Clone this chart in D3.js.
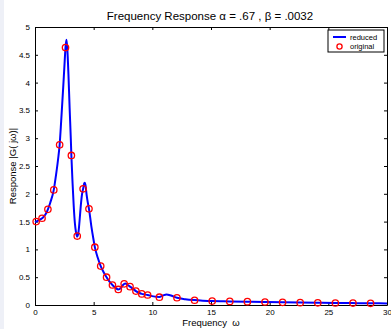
<!DOCTYPE html>
<html><head><meta charset="utf-8">
<script src="https://cdn.jsdelivr.net/npm/d3@7"></script>
<style>body{margin:0;background:#fff}svg{display:block}</style>
</head><body><svg id="c" width="391" height="329"></svg>
<script>
const titleText = "Frequency Response \u03B1 = .67 , \u03B2 = .0032";
const xLabelText = "Frequency  \u03C9";
const yLabelText = "Response |G( j\u03C9)|";
const seriesNames = ["reduced", "original"];
const xTicks = [0, 5, 10, 15, 20, 25, 30];
const yTicks = [0, 0.5, 1, 1.5, 2, 2.5, 3, 3.5, 4, 4.5, 5];
const yTickLabels = ["0", "0.5", "1", "1.5", "2", "2.5", "3", "3.5", "4", "4.5", "5"];

const lineX = [0, 0.3, 0.6, 0.9, 1.1, 1.3, 1.6, 1.8, 2.0, 2.1, 2.2, 2.3, 2.4, 2.5, 2.6, 2.68, 2.75, 2.85, 2.95, 3.05, 3.1, 3.2, 3.3, 3.4, 3.5, 3.6, 3.7, 3.8, 3.9, 4.0, 4.1, 4.2, 4.25, 4.3, 4.4, 4.5, 4.6, 4.8, 5.0, 5.1, 5.35, 5.6, 5.85, 6.1, 6.35, 6.6, 6.85, 7.1, 7.3, 7.5, 7.7, 7.9, 8.1, 8.35, 8.6, 8.85, 9.1, 9.35, 9.6, 10.1, 10.6, 10.9, 11.2, 11.6, 12.1, 12.8, 13.6, 14.3, 15.1, 16.6, 18.1, 19.6, 21.1, 22.6, 24.1, 25.6, 27.1, 28.6, 30];
const lineY = [1.49, 1.52, 1.56, 1.63, 1.72, 1.84, 2.07, 2.35, 2.68, 2.88, 3.2, 3.55, 3.9, 4.27, 4.63, 4.77, 4.62, 4.15, 3.55, 3.0, 2.69, 2.2, 1.78, 1.47, 1.3, 1.23, 1.3, 1.52, 1.78, 1.98, 2.09, 2.19, 2.2, 2.16, 1.98, 1.84, 1.73, 1.42, 1.16, 1.04, 0.85, 0.70, 0.59, 0.50, 0.42, 0.36, 0.31, 0.28, 0.30, 0.36, 0.385, 0.36, 0.33, 0.29, 0.25, 0.22, 0.20, 0.19, 0.18, 0.155, 0.145, 0.17, 0.19, 0.17, 0.13, 0.105, 0.088, 0.078, 0.07, 0.065, 0.06, 0.054, 0.048, 0.043, 0.04, 0.036, 0.034, 0.031, 0.029];

const origX = [0.1, 0.6, 1.1, 1.6, 2.1, 2.6, 3.1, 3.6, 4.1, 4.6, 5.1, 5.6, 6.1, 6.6, 7.1, 7.6, 8.1, 8.6, 9.1, 9.6, 10.6, 12.1, 13.6, 15.1, 16.6, 18.1, 19.6, 21.1, 22.6, 24.1, 25.6, 27.1, 28.6];
const origY = [1.50, 1.56, 1.72, 2.07, 2.88, 4.63, 2.69, 1.24, 2.09, 1.73, 1.04, 0.70, 0.50, 0.36, 0.28, 0.38, 0.33, 0.25, 0.20, 0.18, 0.14, 0.13, 0.085, 0.07, 0.065, 0.06, 0.054, 0.048, 0.042, 0.04, 0.036, 0.035, 0.03];

const W = 391, H = 329;
const m = {left: 35, top: 27, right: 387, bottom: 305};
const font = "'Liberation Sans', Arial, Helvetica, sans-serif";
const svg = d3.select("#c");
svg.append("rect").attr("width", W).attr("height", H).attr("fill", "#fff");
svg.append("rect").attr("width", 4).attr("height", H).attr("fill", "#eef0f7");

const x = d3.scaleLinear().domain([0, 30]).range([m.left, m.right]);
const y = d3.scaleLinear().domain([0, 5]).range([m.bottom, m.top]);

// axes with inward ticks
const tl = 3;
const gB = svg.append("g").attr("transform", `translate(0,${m.bottom})`)
  .call(d3.axisBottom(x).tickValues(xTicks).tickSizeInner(-tl).tickSizeOuter(0).tickPadding(5).tickFormat(d3.format("d")));
const gT = svg.append("g").attr("transform", `translate(0,${m.top})`)
  .call(d3.axisTop(x).tickValues(xTicks).tickSizeInner(-tl).tickSizeOuter(0).tickFormat(""));
const gL = svg.append("g").attr("transform", `translate(${m.left},0)`)
  .call(d3.axisLeft(y).tickValues(yTicks).tickSizeInner(-tl).tickSizeOuter(0).tickPadding(5).tickFormat((d, i) => yTickLabels[i]));
const gR = svg.append("g").attr("transform", `translate(${m.right},0)`)
  .call(d3.axisRight(y).tickValues(yTicks).tickSizeInner(-tl).tickSizeOuter(0).tickFormat(""));
[gB, gT, gL, gR].forEach(g => {
  g.select(".domain").attr("stroke", "#000").attr("stroke-width", 1);
  g.selectAll(".tick line").attr("stroke", "#000");
  g.selectAll("text").attr("font-family", font).attr("font-size", 8).attr("fill", "#000");
});
gB.selectAll("text").attr("dy", "0.71em").attr("y", 4);

// series
const line = d3.line().x((d, i) => x(lineX[i])).y(d => y(d)).curve(d3.curveMonotoneX);
svg.append("path").datum(lineY).attr("d", line).attr("fill", "none")
  .attr("stroke", "#0000ff").attr("stroke-width", 2);
svg.append("g").selectAll("circle").data(origY).join("circle")
  .attr("cx", (d, i) => x(origX[i])).attr("cy", d => y(d)).attr("r", 3.2)
  .attr("fill", "none").attr("stroke", "#ff0000").attr("stroke-width", 1.3);

// title and labels
svg.append("text").attr("x", (m.left + m.right) / 2 - 1).attr("y", 20).attr("text-anchor", "middle")
  .attr("font-family", font).attr("font-size", 11.5).text(titleText);
svg.append("text").attr("x", (m.left + m.right) / 2).attr("y", 326).attr("text-anchor", "middle")
  .attr("font-family", font).attr("font-size", 9.5).attr("xml:space", "preserve").style("white-space", "pre").text(xLabelText);
svg.append("text").attr("transform", `translate(16,${(m.top + m.bottom) / 2}) rotate(-90)`).attr("text-anchor", "middle")
  .attr("font-family", font).attr("font-size", 9.5).text(yLabelText);

// legend
const lg = svg.append("g");
lg.append("rect").attr("x", 328).attr("y", 30).attr("width", 56).attr("height", 22)
  .attr("fill", "#fff").attr("stroke", "#000").attr("stroke-width", 1);
lg.append("line").attr("x1", 333).attr("x2", 346).attr("y1", 37).attr("y2", 37)
  .attr("stroke", "#0000ff").attr("stroke-width", 2);
lg.append("circle").attr("cx", 339.5).attr("cy", 46.5).attr("r", 2.6)
  .attr("fill", "none").attr("stroke", "#ff0000").attr("stroke-width", 1.3);
lg.selectAll("text.lt").data(seriesNames).join("text").attr("class", "lt")
  .attr("x", 350).attr("y", (d, i) => 39.5 + i * 9.5)
  .attr("font-family", font).attr("font-size", 7.5).text(d => d);
</script></body></html>
